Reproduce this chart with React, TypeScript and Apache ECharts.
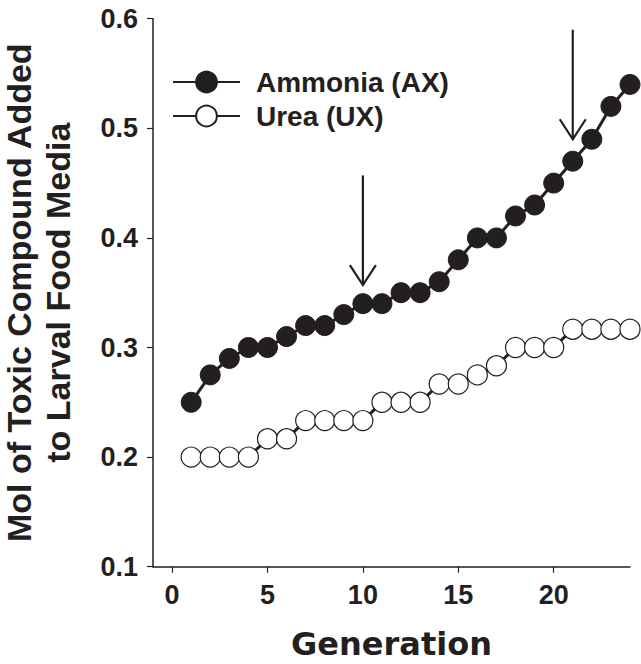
import React, { useEffect, useRef } from "react";
import * as echarts from "echarts";

const generations = [1, 2, 3, 4, 5, 6, 7, 8, 9, 10, 11, 12, 13, 14, 15, 16, 17, 18, 19, 20, 21, 22, 23, 24];
const ammonia = [0.25, 0.275, 0.29, 0.3, 0.3, 0.31, 0.32, 0.32, 0.33, 0.34, 0.34, 0.35, 0.35, 0.36, 0.38, 0.4, 0.4, 0.42, 0.43, 0.45, 0.47, 0.49, 0.52, 0.54];
const urea = [0.2, 0.2, 0.2, 0.2, 0.2167, 0.2167, 0.2333, 0.2333, 0.2333, 0.2333, 0.25, 0.25, 0.25, 0.2667, 0.2667, 0.275, 0.2833, 0.3, 0.3, 0.3, 0.3167, 0.3167, 0.3167, 0.3167];
const xTicks = [0, 5, 10, 15, 20];
// arrows: [generation, start value, tip value]
const arrows = [
  [10, 0.457, 0.357],
  [21, 0.59, 0.49],
];
const seriesNames = ["Ammonia (AX)", "Urea (UX)"];

const INK = "#231f20";
const FONT = "'Liberation Sans', Arial, sans-serif";

export default function App() {
  const ref = useRef<HTMLDivElement>(null);
  useEffect(() => {
    if (!ref.current) return;
    const chart = echarts.init(ref.current, null, { renderer: "svg" });
    chart.setOption({
      animation: false,
      backgroundColor: "#ffffff",
      grid: {
        left: 153,
        right: 11,
        top: 18.7,
        bottom: 97.3,
        containLabel: false,
        outerBoundsMode: "none",
      },
      legend: {
        data: seriesNames,
        orient: "vertical",
        left: 167,
        top: 63,
        itemWidth: 67,
        itemHeight: 26,
        itemGap: 6,
        textStyle: {
          fontFamily: FONT,
          fontWeight: "bold",
          fontSize: 28,
          lineHeight: 26,
          color: INK,
          padding: [0, 0, 0, 11],
        },
      },
      xAxis: {
        type: "value",
        min: -1,
        max: 24,
        name: "Generation",
        nameLocation: "middle",
        nameGap: 61,
        nameTextStyle: {
          fontFamily: "'DejaVu Sans', sans-serif",
          fontWeight: "bold",
          fontSize: 32,
          color: INK,
        },
        axisLine: { show: true, onZero: false, lineStyle: { color: INK, width: 1.5 } },
        axisTick: { show: true, length: 6, customValues: xTicks, lineStyle: { color: INK, width: 1.2 } },
        axisLabel: {
          customValues: xTicks,
          margin: 15,
          fontFamily: FONT,
          fontWeight: "bold",
          fontSize: 27,
          color: INK,
        },
        splitLine: { show: false },
      },
      yAxis: {
        type: "value",
        min: 0.1,
        max: 0.6,
        interval: 0.1,
        name: "Mol of Toxic Compound Added\nto Larval Food Media",
        nameLocation: "middle",
        nameRotate: 90,
        nameGap: 76,
        nameTextStyle: {
          fontFamily: FONT,
          fontWeight: "bold",
          fontSize: 34,
          lineHeight: 39,
          color: INK,
        },
        axisLine: { show: true, onZero: false, lineStyle: { color: INK, width: 1.5 } },
        axisTick: { show: true, length: 6, lineStyle: { color: INK, width: 1.2 } },
        axisLabel: {
          margin: 15,
          fontFamily: FONT,
          fontWeight: "bold",
          fontSize: 27,
          color: INK,
          formatter: (v: number) => v.toFixed(1),
        },
        splitLine: { show: false },
      },
      series: [
        {
          name: seriesNames[0],
          type: "line",
          data: generations.map((g, i) => [g, ammonia[i]]),
          symbol: "circle",
          symbolSize: 20,
          showAllSymbol: true,
          lineStyle: { color: INK, width: 3 },
          itemStyle: { color: INK, borderColor: INK, borderWidth: 1 },
          z: 3,
        },
        {
          name: seriesNames[1],
          type: "line",
          data: generations.map((g, i) => [g, urea[i]]),
          symbol: "circle",
          symbolSize: 20,
          showAllSymbol: true,
          lineStyle: { color: INK, width: 3 },
          itemStyle: { color: "#ffffff", borderColor: INK, borderWidth: 1.2 },
          z: 3,
        },
        {
          type: "custom",
          data: arrows,
          encode: { x: 0, y: [1, 2] },
          renderItem: (params: any, api: any) => {
            const x = api.value(0);
            const p1 = api.coord([x, api.value(1)]);
            const p2 = api.coord([x, api.value(2)]);
            return {
              type: "group",
              children: [
                {
                  type: "line",
                  shape: { x1: p1[0], y1: p1[1], x2: p2[0], y2: p2[1] },
                  style: { stroke: INK, lineWidth: 2.2 },
                },
                {
                  type: "polyline",
                  shape: {
                    points: [
                      [p2[0] - 13, p2[1] - 20],
                      [p2[0], p2[1]],
                      [p2[0] + 13, p2[1] - 20],
                    ],
                  },
                  style: { stroke: INK, lineWidth: 2.2, fill: "none" },
                },
              ],
            };
          },
          z: 4,
        },
      ],
    });
    return () => chart.dispose();
  }, []);
  return (
    <div
      ref={ref}
      style={{ position: "fixed", left: 0, top: 0, width: 641, height: 664, background: "#fff" }}
    />
  );
}
